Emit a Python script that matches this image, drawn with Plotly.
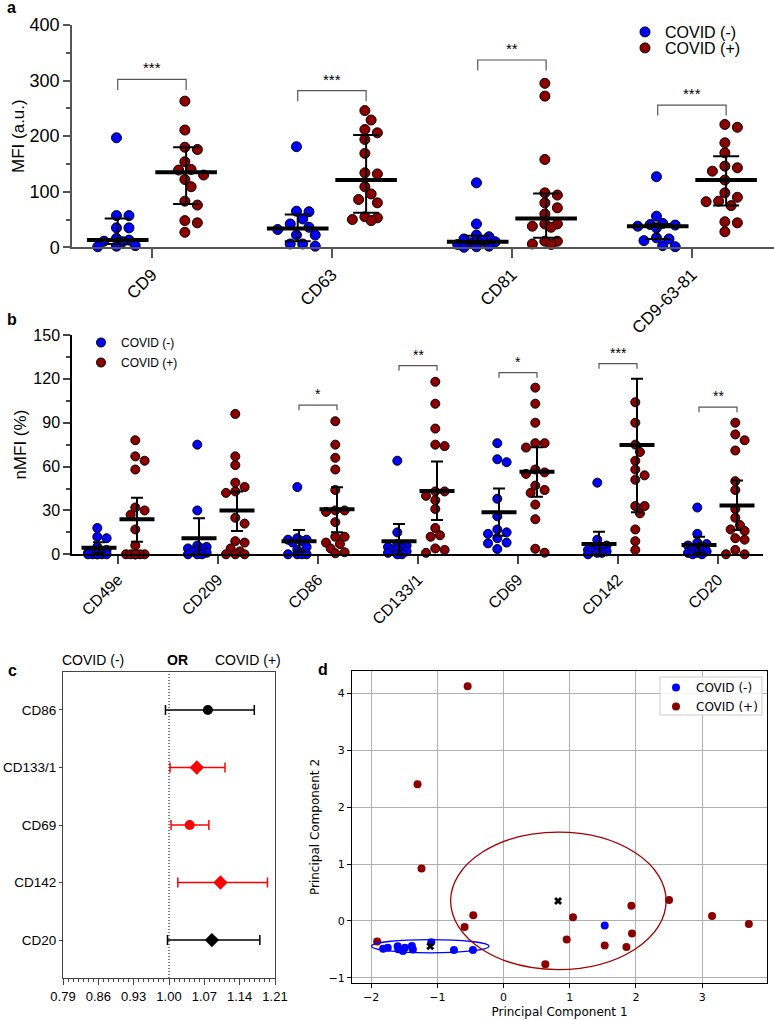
import plotly.graph_objects as go
import numpy as np

W, H = 774, 1020

# ---------------- DATA ----------------
# Panel a: MFI (a.u.)
a_cats = ["CD9", "CD63", "CD81", "CD9-63-81"]
a_neg = [
    [197, 57, 57, 35, 35, 16, 13, 11, 10, 3, 2, 1],
    [181, 65, 64, 51, 42, 36, 32, 22, 22, 6, 6, 2],
    [116, 42, 22, 19, 15, 11, 10, 8, 5, 2, 1, 0],
    [127, 56, 43, 41, 40, 38, 35, 17, 15, 12, 3, 1],
]
a_pos = [
    [263, 211, 180, 176, 154, 140, 139, 130, 122, 109, 83, 76, 48, 44, 27],
    [246, 229, 212, 206, 194, 169, 134, 132, 109, 96, 86, 80, 55, 53, 50, 48],
    [295, 272, 158, 98, 94, 80, 71, 60, 42, 42, 38, 36, 11, 11, 6, 5],
    [221, 216, 188, 170, 146, 143, 137, 121, 98, 90, 83, 82, 75, 46, 44, 28],
]
a_neg_median = [13, 34, 10, 38]
a_neg_q1 = [6, 11, 6, 15]
a_neg_q3 = [52, 59, 21, 42]
a_pos_median = [135, 121, 52, 121]
a_pos_q1 = [78, 62, 17, 75]
a_pos_q3 = [180, 202, 97, 164]
a_sig = ["***", "***", "**", "***"]
a_sig_top = [302, 282, 337, 256]

# Panel b: nMFI (%)
b_cats = ["CD49e", "CD209", "CD86", "CD133/1", "CD69", "CD142", "CD20"]
b_neg = [
    [18, 12, 11, 5, 3, 1, 0, 0, 0, 0, 0, 0],
    [75, 30, 6, 5, 4, 4, 3, 2, 1, 0, 0, 0],
    [46, 11, 10, 10, 9, 8, 5, 3, 0, 0, 0, 0],
    [64, 15, 7, 6, 5, 4, 3, 3, 2, 1, 0, 0],
    [76, 65, 63, 38, 26, 17, 15, 14, 11, 8, 7.5, 3.6],
    [49, 10, 6, 5, 4, 3, 3, 2, 2, 1, 1, 0],
    [32, 14, 8, 7, 6, 5, 4, 2, 1, 1, 0, 0],
]
b_pos = [
    [78, 67, 64, 58, 32, 30, 27, 17, 6, 0, 0, 0, 0, 0, 0, 0],
    [96, 67, 61, 49, 46, 43, 42, 25, 21, 9, 8, 4, 2, 0, 0, 0],
    [91, 75, 66, 58, 44, 30, 30, 29, 22, 12, 12, 8, 7, 4, 1.4, 0.7],
    [118, 103, 86, 75, 74, 43, 43, 40, 37, 31, 18, 13, 12, 4, 3, 1],
    [114, 103, 90, 76, 76, 73, 58, 56, 55, 47, 44, 42, 34, 24, 3.8, 1.1],
    [104, 90, 75, 70, 64, 58, 54, 51, 33, 33, 28, 17, 9, 3],
    [90, 82, 78, 71, 50, 44, 31, 25, 20, 17, 16, 11, 10, 3, 0, 0],
]
b_neg_mean = [4.5, 11, 9, 9, 28.7, 7, 6.4]
b_neg_lo = [1, 0, 1.5, 0, 12.7, 0, 1]
b_neg_hi = [8.2, 24.6, 16.6, 20.7, 45, 15.5, 12]
b_pos_mean = [24, 30, 30.8, 43.3, 56.5, 74.8, 33.3]
b_pos_lo = [8.6, 16, 15, 23.5, 39.4, 28.7, 16.6]
b_pos_hi = [38.7, 43, 45.8, 63.4, 73.2, 120, 50.4]
b_sig = ["", "", "*", "**", "*", "***", "**"]
b_sig_top = [None, None, 102, 129, 124.2, 130.4, 100.6]

# Panel c: odds ratios
c_labels = ["CD86", "CD133/1", "CD69", "CD142", "CD20"]
c_or = [1.077, 1.055, 1.041, 1.102, 1.085]
c_lo = [0.993, 1.002, 1.004, 1.0175, 0.997]
c_hi = [1.169, 1.111, 1.079, 1.195, 1.180]
c_xticks = [0.79, 0.86, 0.93, 1.00, 1.07, 1.14, 1.21]
c_ref = 1.00

# Panel d: PCA
d_neg_pc1 = [1.528, -1.093, -1.82, -1.75, -1.60, -1.59, -1.52, -1.49, -1.385, -1.37, -0.75, -0.463]
d_neg_pc2 = [-0.082, -0.374, -0.49, -0.47, -0.444, -0.497, -0.53, -0.47, -0.44, -0.50, -0.51, -0.51]
d_pos_pc1 = [-0.543, -1.30, -1.24, -0.458, -0.589, -1.91, 0.631, 0.954, 1.049, 1.528, 1.856, 1.931, 1.94, 2.50, 3.15, 3.706]
d_pos_pc2 = [4.12, 2.40, 0.92, 0.10, -0.105, -0.363, -0.76, -0.327, 0.064, -0.433, -0.456, 0.269, -0.222, 0.368, 0.088, -0.053]
d_centroid_pc1 = [-1.108, 0.823]
d_centroid_pc2 = [-0.444, 0.35]
d_ell_cx = [-1.108, 0.828]
d_ell_cy = [-0.444, 0.353]
d_ell_rx = [0.887, 1.628]
d_ell_ry = [0.117, 1.207]

# ---------------- STYLE / LAYOUT HELPERS ----------------
BLUE = "#0000FF"
RED = "#8B0000"
ARIAL = "Liberation Sans, Arial, sans-serif"
DJV = "DejaVu Sans, sans-serif"

def fx(px):
    return px / W

def fy(py):
    return 1 - py / H

def swarm(vals, ppu, diam, step, maxw):
    """x offsets (px) so that dots do not overlap (beeswarm)."""
    idx = sorted(range(len(vals)), key=lambda i: -vals[i])
    cands = list(np.arange(-maxw / 2, maxw / 2 + 1e-6, step / 2))
    cands.sort(key=lambda o: (abs(o), o))
    placed, offs = [], [0.0] * len(vals)
    for i in idx:
        y = vals[i] * ppu
        best, bestd = 0.0, -1
        for o in cands:
            d = min([np.hypot(o - a, y - b) for a, b in placed] + [1e9])
            if d >= 0.95 * diam:
                best = o
                break
            if d > bestd + 0.5:
                best, bestd = o, d
        placed.append((best, y))
        offs[i] = best
    return offs

fig = go.Figure()

# ---------------- PANEL A ----------------
A_X0, A_X1, A_Y0, A_Y1 = 72, 774, 25, 247.3
A_RANGE = [-0.444, 3.456]
A_PPC = (A_X1 - A_X0) / (A_RANGE[1] - A_RANGE[0])
A_PPU = (A_Y1 - A_Y0) / 400
A_GRP = 0.19

for g, (data, col, name, sgn, leg) in enumerate([(a_neg, BLUE, "COVID (-)", -1, "legend"),
                                                  (a_pos, RED, "COVID (+)", 1, "legend4")]):
    xs, ys = [], []
    for i, vals in enumerate(data):
        offs = swarm(vals, A_PPU, 10, 12.5, 40)
        for v, o in zip(vals, offs):
            xs.append(i + sgn * A_GRP + o / A_PPC)
            ys.append(v)
    fig.add_trace(go.Scatter(x=xs, y=ys, mode="markers", name=name, xaxis="x", yaxis="y",
                             marker=dict(color=col, size=10, line=dict(color="black", width=1)),
                             cliponaxis=False, legend=leg, showlegend=True))

for med, q1, q3, sgn in [(a_neg_median, a_neg_q1, a_neg_q3, -1), (a_pos_median, a_pos_q1, a_pos_q3, 1)]:
    fig.add_trace(go.Scatter(
        x=[i + sgn * A_GRP for i in range(len(a_cats))], y=med, mode="markers",
        xaxis="x", yaxis="y", showlegend=False, cliponaxis=False,
        marker=dict(symbol="line-ew", size=44, line=dict(color="black", width=4)),
        error_y=dict(type="data", symmetric=False,
                     array=[b - a for a, b in zip(med, q3)],
                     arrayminus=[a - b for a, b in zip(med, q1)],
                     color="black", thickness=2, width=13)))

A_LEG = 19
for i, (s, top) in enumerate(zip(a_sig, a_sig_top)):
    fig.add_trace(go.Scatter(x=[i - A_GRP, i - A_GRP, i + A_GRP, i + A_GRP],
                             y=[top - A_LEG, top, top, top - A_LEG], mode="lines",
                             line=dict(color="#555555", width=1.2), xaxis="x", yaxis="y",
                             showlegend=False, hoverinfo="skip"))
    fig.add_annotation(x=i, y=top, xref="x", yref="y", text=s, showarrow=False,
                       yanchor="bottom", yshift=1, font=dict(size=15, color="black", family=ARIAL))

# ---------------- PANEL B ----------------
B_X0, B_X1, B_Y0, B_Y1 = 72, 763, 335, 554.3
B_RANGE = [-0.46, 6.45]
B_PPC = (B_X1 - B_X0) / (B_RANGE[1] - B_RANGE[0])
B_PPU = (B_Y1 - B_Y0) / 150
B_GRP = 0.19

for g, (data, col, name, sgn, leg) in enumerate([(b_neg, BLUE, "COVID (-)", -1, "legend2"),
                                                  (b_pos, RED, "COVID (+)", 1, "legend6")]):
    xs, ys = [], []
    for i, vals in enumerate(data):
        offs = swarm(vals, B_PPU, 9, 9.3, 22)
        for v, o in zip(vals, offs):
            xs.append(i + sgn * B_GRP + o / B_PPC)
            ys.append(v)
    fig.add_trace(go.Scatter(x=xs, y=ys, mode="markers", name=name, xaxis="x2", yaxis="y2",
                             marker=dict(color=col, size=9, line=dict(color="black", width=1)),
                             cliponaxis=False, legend=leg, showlegend=True))

for mn, lo, hi, sgn in [(b_neg_mean, b_neg_lo, b_neg_hi, -1), (b_pos_mean, b_pos_lo, b_pos_hi, 1)]:
    fig.add_trace(go.Scatter(
        x=[i + sgn * B_GRP for i in range(len(b_cats))], y=mn, mode="markers",
        xaxis="x2", yaxis="y2", showlegend=False, cliponaxis=False,
        marker=dict(symbol="line-ew", size=25, line=dict(color="black", width=4)),
        error_y=dict(type="data", symmetric=False,
                     array=[b - a for a, b in zip(mn, hi)],
                     arrayminus=[a - b for a, b in zip(mn, lo)],
                     color="black", thickness=2, width=6)))

B_LEG = 3.4
for i, (s, top) in enumerate(zip(b_sig, b_sig_top)):
    if not s:
        continue
    fig.add_trace(go.Scatter(x=[i - B_GRP, i - B_GRP, i + B_GRP, i + B_GRP],
                             y=[top - B_LEG, top, top, top - B_LEG], mode="lines",
                             line=dict(color="#555555", width=1.2), xaxis="x2", yaxis="y2",
                             showlegend=False, hoverinfo="skip"))
    fig.add_annotation(x=i, y=top, xref="x2", yref="y2", text=s, showarrow=False,
                       yanchor="bottom", yshift=1, font=dict(size=14, color="black", family=ARIAL))

# ---------------- PANEL C ----------------
C_X0, C_X1, C_Y0, C_Y1 = 63, 275, 672, 978
c_colors = ["black", "red", "red", "red", "black"]
c_symbols = ["circle", "diamond", "circle", "diamond", "diamond"]
n_c = len(c_labels)
c_ypos = [n_c - 1 - i for i in range(n_c)]
for i in range(n_c):
    fig.add_trace(go.Scatter(
        x=[c_or[i]], y=[c_ypos[i]], mode="markers", xaxis="x3", yaxis="y3", showlegend=False,
        marker=dict(color=c_colors[i], size=11 if c_symbols[i] == "diamond" else 10, symbol=c_symbols[i]),
        error_x=dict(type="data", symmetric=False, array=[c_hi[i] - c_or[i]],
                     arrayminus=[c_or[i] - c_lo[i]], color=c_colors[i], thickness=1.5, width=5)))
fig.add_shape(type="line", xref="x3", yref="y3 domain", x0=c_ref, x1=c_ref, y0=0, y1=1,
              line=dict(color="black", width=1, dash="1px,2px"))
for txt, px, bold in [("COVID (-)", 93, False), ("OR", 177, True), ("COVID (+)", 248, False)]:
    fig.add_annotation(x=fx(px), y=fy(660), xref="paper", yref="paper", showarrow=False,
                       text=f"<b>{txt}</b>" if bold else txt, xanchor="center", yanchor="middle",
                       font=dict(size=14, color="black", family=ARIAL))

# ---------------- PANEL D ----------------
D_X0, D_X1, D_Y0, D_Y1 = 352, 767, 671, 983
fig.add_trace(go.Scatter(x=d_neg_pc1, y=d_neg_pc2, mode="markers", name="COVID (-)", xaxis="x4", yaxis="y4",
                         marker=dict(color="blue", size=8), legend="legend3"))
fig.add_trace(go.Scatter(x=d_pos_pc1, y=d_pos_pc2, mode="markers", name="COVID (+)", xaxis="x4", yaxis="y4",
                         marker=dict(color="darkred", size=8), legend="legend5"))
fig.add_trace(go.Scatter(x=d_centroid_pc1, y=d_centroid_pc2, mode="markers", xaxis="x4", yaxis="y4",
                         showlegend=False, marker=dict(color="black", size=7, symbol="x")))
for cx, cy, rx, ry, col in zip(d_ell_cx, d_ell_cy, d_ell_rx, d_ell_ry, ["blue", "#A00000"]):
    fig.add_shape(type="circle", xref="x4", yref="y4", x0=cx - rx, x1=cx + rx, y0=cy - ry, y1=cy + ry,
                  line=dict(color=col, width=1.3))
# legend frame for panel d
fig.add_shape(type="rect", xref="paper", yref="paper", x0=fx(660), x1=fx(762), y0=fy(715), y1=fy(677),
              line=dict(color="#cccccc", width=1), fillcolor="rgba(255,255,255,0.85)", layer="above")

# ---------------- PANEL LABELS ----------------
for lab, px, py in [("a", 5, 8), ("b", 5, 319), ("c", 6, 670), ("d", 316, 669)]:
    fig.add_annotation(x=fx(px), y=fy(py), xref="paper", yref="paper", text=f"<b>{lab}</b>",
                       showarrow=False, xanchor="left", yanchor="middle",
                       font=dict(size=16, color="black", family=ARIAL))

# ---------------- AXES ----------------
ax_common = dict(showgrid=False, zeroline=False, showline=True, ticks="outside", automargin=False)
leg_common = dict(xanchor="left", yanchor="top", bgcolor="rgba(0,0,0,0)")

fig.update_layout(
    width=W, height=H, margin=dict(l=0, r=0, t=0, b=0, autoexpand=False),
    paper_bgcolor="white", plot_bgcolor="white",
    font=dict(family=ARIAL, color="black"),
    xaxis=dict(**ax_common, domain=[fx(A_X0), fx(A_X1)], range=A_RANGE, anchor="y",
               tickvals=list(range(len(a_cats))), ticktext=a_cats, tickangle=-45,
               linecolor="#555555", linewidth=1.5, tickcolor="#555555", tickwidth=1.5, ticklen=9,
               tickfont=dict(size=17, family=ARIAL)),
    yaxis=dict(**ax_common, domain=[fy(A_Y1), fy(A_Y0)], range=[0, 400], anchor="x",
               tickvals=[0, 100, 200, 300, 400], linecolor="#555555", linewidth=1.5,
               tickcolor="#555555", tickwidth=1.5, ticklen=7,
               minor=dict(dtick=50, ticks="outside", ticklen=4, tickcolor="#555555", tickwidth=1.5),
               tickfont=dict(size=18, family=ARIAL),
               title=dict(text="MFI (a.u.)", font=dict(size=17, family=ARIAL), standoff=1)),
    xaxis2=dict(**ax_common, domain=[fx(B_X0), fx(B_X1)], range=B_RANGE, anchor="y2",
                tickvals=list(range(len(b_cats))), ticktext=b_cats, tickangle=-45,
                linecolor="black", linewidth=1.5, tickcolor="#444444", tickwidth=1.5, ticklen=8,
                tickfont=dict(size=16, family=ARIAL)),
    yaxis2=dict(**ax_common, domain=[fy(B_Y1), fy(B_Y0)], range=[0, 150], anchor="x2",
                tickvals=[0, 30, 60, 90, 120, 150], linecolor="black", linewidth=1.5,
                tickcolor="#444444", tickwidth=1.5, ticklen=7,
                minor=dict(dtick=15, ticks="outside", ticklen=4, tickcolor="#444444", tickwidth=1.5),
                tickfont=dict(size=16, family=ARIAL),
                title=dict(text="nMFI (%)", font=dict(size=17, family=ARIAL), standoff=2)),
    xaxis3=dict(**ax_common, domain=[fx(C_X0), fx(C_X1)], range=[0.79, 1.21], anchor="y3",
                tickvals=c_xticks, ticktext=[f"{v:.2f}" for v in c_xticks], mirror=True,
                linecolor="#444444", linewidth=1, tickcolor="#444444", ticklen=6,
                minor=dict(dtick=0.01, tick0=0.79, ticks="outside", ticklen=3, tickcolor="#444444"),
                tickfont=dict(size=13, family=ARIAL)),
    yaxis3=dict(**ax_common, domain=[fy(C_Y1), fy(C_Y0)], range=[-0.66, n_c - 1 + 0.66], anchor="x3",
                tickvals=c_ypos, ticktext=c_labels, mirror=True,
                linecolor="#444444", linewidth=1, tickcolor="#444444", ticklen=3,
                tickfont=dict(size=13.5, family=ARIAL)),
    xaxis4=dict(domain=[fx(D_X0), fx(D_X1)], range=[-2.29, 3.98], anchor="y4", automargin=False,
                showgrid=True, gridcolor="#b0b0b0", gridwidth=1, zeroline=False,
                showline=True, mirror=True, linecolor="black", linewidth=1,
                ticks="outside", ticklen=4, tickcolor="black",
                tickvals=[-2, -1, 0, 1, 2, 3], ticktext=["\u22122", "\u22121", "0", "1", "2", "3"],
                tickfont=dict(size=11, family=DJV),
                title=dict(text="Principal Component 1", font=dict(size=12, family=DJV), standoff=4)),
    yaxis4=dict(domain=[fy(D_Y1), fy(D_Y0)], range=[-1.09, 4.39], anchor="x4", automargin=False,
                showgrid=True, gridcolor="#b0b0b0", gridwidth=1, zeroline=False,
                showline=True, mirror=True, linecolor="black", linewidth=1,
                ticks="outside", ticklen=4, tickcolor="black",
                tickvals=[-1, 0, 1, 2, 3, 4], ticktext=["\u22121", "0", "1", "2", "3", "4"],
                tickfont=dict(size=11, family=DJV),
                title=dict(text="Principal Component 2", font=dict(size=12, family=DJV), standoff=6)),
    legend=dict(x=fx(625), y=fy(15), **leg_common, font=dict(size=16, family=ARIAL)),
    legend4=dict(x=fx(625), y=fy(31), **leg_common, font=dict(size=16, family=ARIAL)),
    legend2=dict(x=fx(81), y=fy(328), **leg_common, font=dict(size=12, family=ARIAL)),
    legend6=dict(x=fx(81), y=fy(348), **leg_common, font=dict(size=12, family=ARIAL)),
    legend3=dict(x=fx(656), y=fy(673), **leg_common, font=dict(size=12, family=DJV)),
    legend5=dict(x=fx(656), y=fy(692), **leg_common, font=dict(size=12, family=DJV)),
    showlegend=True,
)

fig.write_html("out.html", config={"displayModeBar": False},
               post_script="document.body.style.margin='0';document.body.style.padding='0';")
